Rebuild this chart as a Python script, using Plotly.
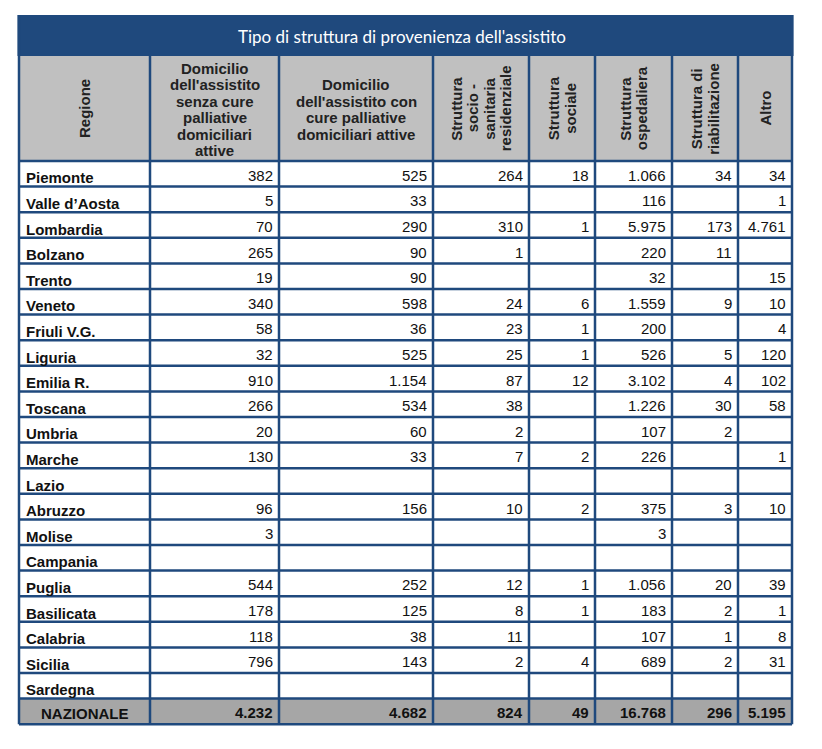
import plotly.graph_objects as go

# ---------------- data ----------------
title_text = "Tipo di struttura di provenienza dell'assistito"

regions = ["Piemonte", "Valle d’Aosta", "Lombardia", "Bolzano", "Trento", "Veneto",
           "Friuli V.G.", "Liguria", "Emilia R.", "Toscana", "Umbria", "Marche",
           "Lazio", "Abruzzo", "Molise", "Campania", "Puglia", "Basilicata",
           "Calabria", "Sicilia", "Sardegna"]
total_label = "NAZIONALE"

domicilio_senza = [382, 5, 70, 265, 19, 340, 58, 32, 910, 266, 20, 130, None, 96, 3, None, 544, 178, 118, 796, None]
domicilio_con = [525, 33, 290, 90, 90, 598, 36, 525, 1154, 534, 60, 33, None, 156, None, None, 252, 125, 38, 143, None]
socio_sanitaria = [264, None, 310, 1, None, 24, 23, 25, 87, 38, 2, 7, None, 10, None, None, 12, 8, 11, 2, None]
sociale = [18, None, 1, None, None, 6, 1, 1, 12, None, None, 2, None, 2, None, None, 1, 1, None, 4, None]
ospedaliera = [1066, 116, 5975, 220, 32, 1559, 200, 526, 3102, 1226, 107, 226, None, 375, 3, None, 1056, 183, 107, 689, None]
riabilitazione = [34, None, 173, 11, None, 9, None, 5, 4, 30, 2, None, None, 3, None, None, 20, 2, 1, 2, None]
altro = [34, 1, 4761, None, 15, 10, 4, 120, 102, 58, None, 1, None, 10, None, None, 39, 1, 8, 31, None]
totals = [4232, 4682, 824, 49, 16768, 296, 5195]

headers = ["Regione",
           "Domicilio<br>dell'assistito<br>senza cure<br>palliative<br>domiciliari<br>attive",
           "Domicilio<br>dell'assistito con<br>cure palliative<br>domiciliari attive",
           "Struttura<br>socio -<br>sanitaria<br>residenziale",
           "Struttura<br>sociale",
           "Struttura<br>ospedaliera",
           "Struttura di<br>riabilitazione",
           "Altro"]
header_rotated = [True, False, False, True, True, True, True, True]

columns = [domicilio_senza, domicilio_con, socio_sanitaria, sociale,
           ospedaliera, riabilitazione, altro]

# ---------------- layout geometry (pixels) ----------------
W, H = 822, 749
edges = [19, 150, 279, 433, 529, 595, 672, 738, 792]
title_top, header_top, body_top = 15, 56, 161
pitch = 25.6
n_rows = len(regions) + 1
body_bottom = body_top + pitch * n_rows

BLUE = "#1F497D"
HEAD_GRAY = "#C0C0C0"
TOT_GRAY = "#A6A6A6"
FONT = "Liberation Sans, Arial, sans-serif"


def fmt(v):
    if v is None:
        return ""
    return f"{v:,}".replace(",", ".")


shapes = []
annotations = []

# backgrounds
shapes.append(dict(type="rect", xref="x", yref="y", x0=edges[0] - 1.5, x1=edges[-1] + 1.5,
                   y0=title_top, y1=header_top, fillcolor=BLUE, line=dict(width=0), layer="below"))
shapes.append(dict(type="rect", xref="x", yref="y", x0=edges[0], x1=edges[-1],
                   y0=header_top, y1=body_top, fillcolor=HEAD_GRAY, line=dict(width=0), layer="below"))
shapes.append(dict(type="rect", xref="x", yref="y", x0=edges[0], x1=edges[-1],
                   y0=body_top + pitch * (n_rows - 1), y1=body_bottom, fillcolor=TOT_GRAY,
                   line=dict(width=0), layer="below"))

# grid lines
for k in range(n_rows + 1):
    y = body_top + pitch * k
    shapes.append(dict(type="line", xref="x", yref="y", x0=edges[0], x1=edges[-1], y0=y, y1=y,
                       line=dict(color=BLUE, width=2.5)))
for i, x in enumerate(edges):
    y0 = title_top if i in (0, len(edges) - 1) else header_top
    shapes.append(dict(type="line", xref="x", yref="y", x0=x, x1=x, y0=y0, y1=body_bottom,
                       line=dict(color=BLUE, width=2.5)))

# title
annotations.append(dict(x=(edges[0] + edges[-1]) / 2 - 4, y=(title_top + header_top) / 2 + 1,
                        xref="x", yref="y", text=title_text, showarrow=False,
                        font=dict(family="Lato, sans-serif", size=17, color="white"),
                        xanchor="center", yanchor="middle"))

# headers (each line placed individually for tight line spacing)
line_gap = 16.5
hmid = (header_top + body_top) / 2
for c, (htxt, rot) in enumerate(zip(headers, header_rotated)):
    lines = htxt.split("<br>")
    n = len(lines)
    cx = (edges[c] + edges[c + 1]) / 2
    for j, ln in enumerate(lines):
        off = (j - (n - 1) / 2) * line_gap
        if rot:
            annotations.append(dict(x=cx + off, y=hmid, xref="x", yref="y", text=ln,
                                    showarrow=False, textangle=-90,
                                    font=dict(family=FONT, size=15, color="#222222", weight="bold"),
                                    xanchor="center", yanchor="middle"))
        else:
            annotations.append(dict(x=cx, y=hmid + off + 1, xref="x", yref="y", text=ln,
                                    showarrow=False,
                                    font=dict(family=FONT, size=15, color="#222222", weight="bold"),
                                    xanchor="center", yanchor="middle"))

# body
for r in range(n_rows):
    top = body_top + pitch * r
    is_total = r == n_rows - 1
    if is_total:
        annotations.append(dict(x=(edges[0] + edges[1]) / 2, y=top + pitch / 2 + 2.5,
                                xref="x", yref="y", text=total_label, showarrow=False,
                                font=dict(family=FONT, size=15, color="#111111", weight="bold"),
                                xanchor="center", yanchor="middle"))
    else:
        annotations.append(dict(x=edges[0] + 5, y=top + pitch / 2 + 4,
                                xref="x", yref="y", text=regions[r], showarrow=False,
                                font=dict(family=FONT, size=15, color="#111111", weight="bold"),
                                xanchor="left", yanchor="middle"))
    for c, col in enumerate(columns):
        val = totals[c] if is_total else col[r]
        txt = fmt(val)
        if not txt:
            continue
        annotations.append(dict(x=edges[c + 2] - 4.5, y=top + pitch / 2 + 1.5,
                                xref="x", yref="y", text=txt, showarrow=False,
                                font=dict(family=FONT, size=15, color="#111111",
                                          weight="bold" if is_total else "normal"),
                                xanchor="right", yanchor="middle"))

fig = go.Figure()
fig.update_layout(
    width=W, height=H,
    margin=dict(l=0, r=0, t=0, b=0),
    paper_bgcolor="white", plot_bgcolor="white",
    xaxis=dict(range=[0, W], visible=False, fixedrange=True),
    yaxis=dict(range=[H, 0], visible=False, fixedrange=True),
    shapes=shapes, annotations=annotations, showlegend=False,
)
fig.write_html("out.html", config={"displayModeBar": False, "staticPlot": True},
               post_script="document.body.style.margin='0';document.body.style.overflow='hidden';")
